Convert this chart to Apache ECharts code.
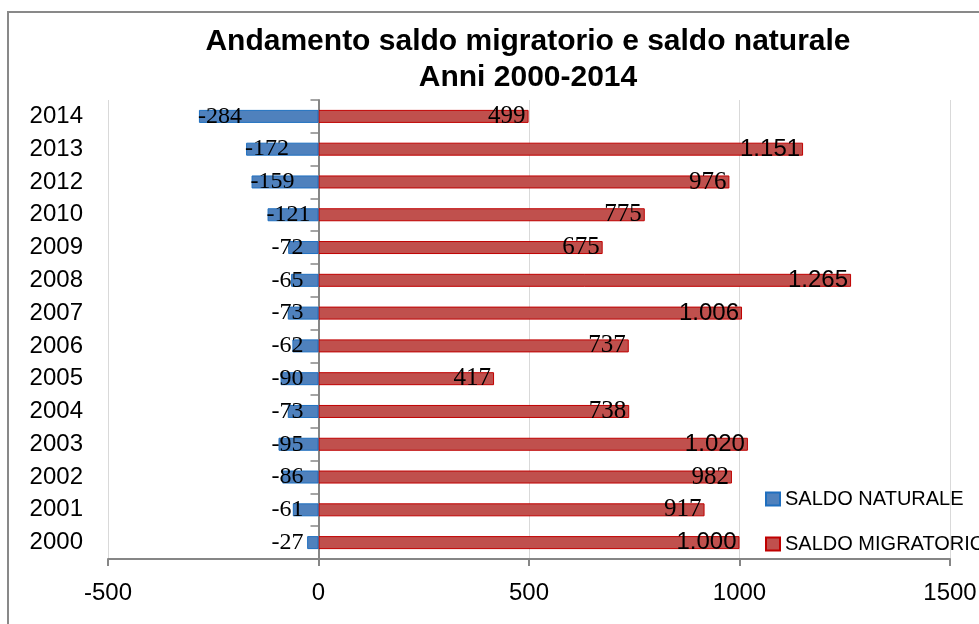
<!DOCTYPE html>
<html>
<head>
<meta charset="utf-8">
<script src="https://cdn.jsdelivr.net/npm/echarts@6/dist/echarts.min.js"></script>
<style>
html,body{margin:0;padding:0;background:#fff;}
#chart{width:979px;height:624px;}
</style>
</head>
<body>
<div id="chart"></div>
<script>
var years = ['2000','2001','2002','2003','2004','2005','2006','2007','2008','2009','2010','2012','2013','2014'];
var saldoNaturale = [-27, -61, -86, -95, -73, -90, -62, -73, -65, -72, -121, -159, -172, -284];
var saldoMigratorio = [1000, 917, 982, 1020, 738, 417, 737, 1006, 1265, 675, 775, 976, 1151, 499];
var xTicks = {min: -500, max: 1500, interval: 500};
var titleLines = ['Andamento saldo migratorio e saldo naturale', 'Anni 2000-2014'];

function fmt(v) {
  var s = String(Math.abs(v)).replace(/\B(?=(\d{3})+(?!\d))/g, '.');
  return (v < 0 ? '-' : '') + s;
}
var SERIF = '"Liberation Serif", "Times New Roman", serif';
var SANS = '"Liberation Sans", Arial, sans-serif';

var natData = saldoNaturale.map(function (v) {
  var big = v < -100;
  return {
    value: v,
    label: big ? {position: 'insideLeft', offset: [-6, 0]} : {position: 'insideRight', distance: 15}
  };
});
var migData = saldoMigratorio.map(function (v) {
  return {
    value: v,
    label: {fontFamily: v >= 1000 ? SANS : SERIF, fontSize: v >= 1000 ? 24 : 25}
  };
});

var chart = echarts.init(document.getElementById('chart'), null, {renderer: 'canvas'});
chart.setOption({
  animation: false,
  backgroundColor: '#fff',
  graphic: [
    {type: 'rect', shape: {x: 8, y: 12, width: 1000, height: 700}, style: {fill: 'none', stroke: '#898989', lineWidth: 2}, silent: true},
    {type: 'text', x: 528, y: 42, style: {text: titleLines[0], align: 'center', verticalAlign: 'middle', font: 'bold 30px "Liberation Sans", Arial, sans-serif', fill: '#000'}},
    {type: 'text', x: 528, y: 78, style: {text: titleLines[1], align: 'center', verticalAlign: 'middle', font: 'bold 30px "Liberation Sans", Arial, sans-serif', fill: '#000'}}
  ],
  legend: {
    orient: 'vertical',
    left: 760,
    top: 484,
    itemWidth: 14,
    itemHeight: 13,
    itemGap: 25,
    icon: 'rect',
    textStyle: {fontFamily: SANS, fontSize: 20, color: '#000'},
    data: ['SALDO NATURALE', 'SALDO MIGRATORIO']
  },
  grid: {left: 108, right: 29, top: 100, bottom: 65, containLabel: false, outerBoundsMode: 'none'},
  xAxis: {
    type: 'value',
    min: xTicks.min, max: xTicks.max, interval: xTicks.interval,
    axisLine: {show: true, lineStyle: {color: '#868686', width: 2}},
    axisTick: {show: true, length: 7, lineStyle: {color: '#868686', width: 2}},
    axisLabel: {fontFamily: SANS, fontSize: 24, color: '#000', margin: 22, formatter: function (v) { return String(v); }},
    splitLine: {show: true, lineStyle: {color: '#D9D9D9', width: 1}}
  },
  yAxis: {
    type: 'category',
    data: years,
    axisLine: {show: true, onZero: true, lineStyle: {color: '#868686', width: 2}},
    axisTick: {show: true, length: 8, lineStyle: {color: '#868686', width: 1.5}},
    axisLabel: {fontFamily: SANS, fontSize: 24, color: '#000', margin: 25},
    splitLine: {show: false}
  },
  series: [
    {
      name: 'SALDO NATURALE',
      type: 'bar',
      data: natData,
      barWidth: 13,
      barGap: '-100%',
      itemStyle: {color: '#4F81BD', borderColor: '#1F6FBF', borderWidth: 1},
      label: {show: true, formatter: function (p) { return fmt(p.value); }, fontFamily: SERIF, fontSize: 24, color: '#000'},
      z: 3
    },
    {
      name: 'SALDO MIGRATORIO',
      type: 'bar',
      data: migData,
      barWidth: 13,
      barGap: '-100%',
      itemStyle: {color: '#C0504D', borderColor: '#C00000', borderWidth: 1},
      label: {show: true, position: 'insideRight', distance: 3, formatter: function (p) { return fmt(p.value); }, fontFamily: SERIF, fontSize: 25, color: '#000'},
      z: 2
    }
  ]
});
</script>
</body>
</html>
